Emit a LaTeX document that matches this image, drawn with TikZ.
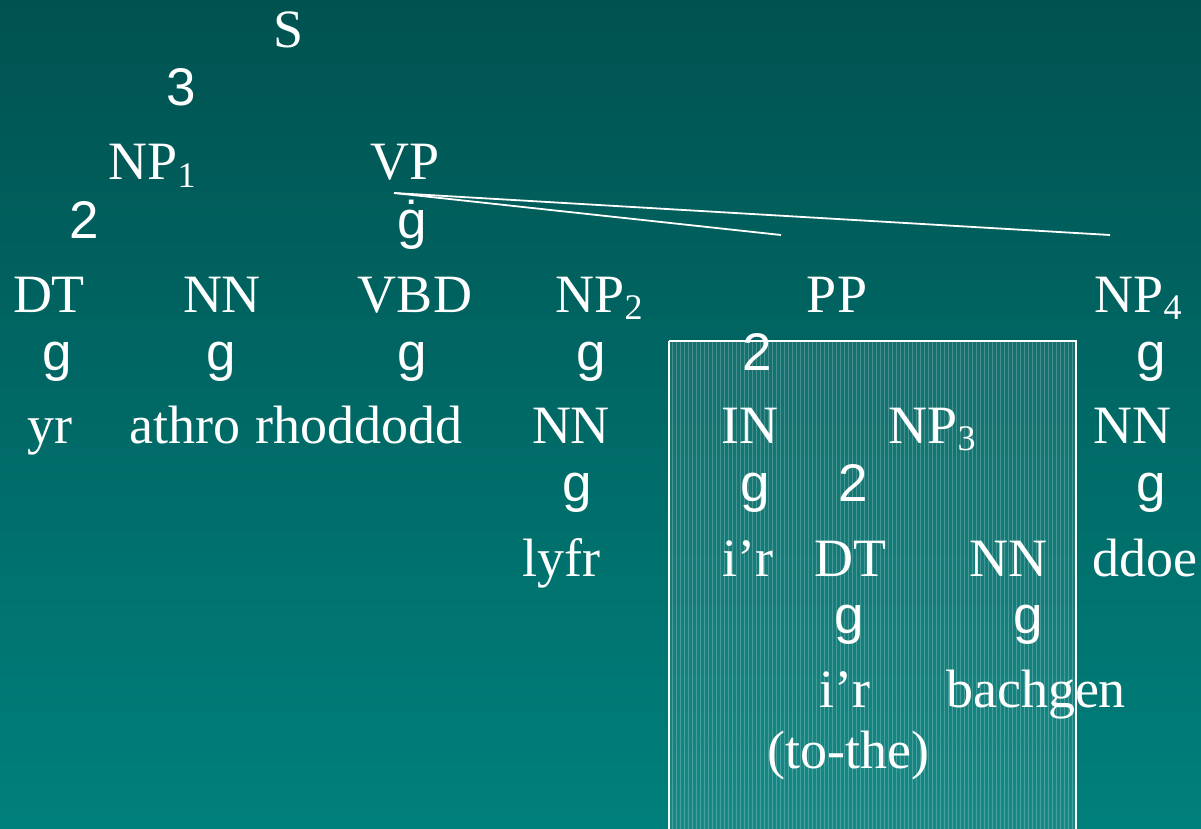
\documentclass[tikz,border=0pt]{standalone}
\usepackage{fontspec}
\setmainfont{Liberation Serif}
\newfontfamily\arialf{Liberation Sans}
\definecolor{bgtop}{RGB}{0,82,80}
\definecolor{bgbot}{RGB}{0,128,124}
\newcommand{\mysub}[1]{\raisebox{-7pt}{\fontsize{36}{40}\selectfont #1}}
\tikzset{
  lbl/.style={text=white, anchor=base, inner sep=0pt, font=\fontsize{54}{60}\selectfont},
  brn/.style={text=white, anchor=base, inner sep=0pt, font=\arialf\fontsize{53}{60}\selectfont},
  branch/.style={draw=white, line width=1.8pt},
  hlbox/.style={draw=white, line width=1.6pt}
}
\begin{document}
\begin{tikzpicture}[x=1pt,y=-1pt]
\useasboundingbox (0,0) rectangle (1201,829);
\begin{scope}[y=1pt]
\shade[top color=bgtop, bottom color=bgbot] (0,-829) rectangle (1201,0);
\end{scope}
% highlighted box
\fill[white, opacity=0.08] (669,341) rectangle (1076,840);
\begin{scope}
\clip (669,341) rectangle (1076,840);
\draw[white, opacity=0.22, line width=0.8pt, step=4] (668,340) grid (1080,840);
\end{scope}
\draw[hlbox] (669,341) -- (1076,341) -- (1076,840) (669,341) -- (669,840);
% connectors from VP
\coordinate (vpfoot) at (394,193);
\coordinate (ppend) at (781,235);
\coordinate (npend) at (1110,235);
\draw[branch] (vpfoot) -- (ppend);
\draw[branch] (vpfoot) -- (npend);
% top
\node[lbl] (S) at (289,48) {S};
\node[brn] (b3) at (181,106) {3};
\node[lbl] (NP1) at (152,180) {NP\mysub{1}};
\node[lbl] (VP) at (405,180) {VP};
\node[brn] (b2a) at (84,238) {2};
\node[brn] (bvp) at (412,238) {ġ};
% row of categories
\node[lbl] (DT1) at (49,312) {DT};
\node[lbl] (NN1) at (222,312) {NN};
\node[lbl] (VBD) at (415,312) {VBD};
\node[lbl] (NP2) at (599,312) {NP\mysub{2}};
\node[lbl] (PP) at (837,312) {PP};
\node[lbl] (NP4) at (1138,312) {NP\mysub{4}};
% branches
\node[brn] (g1) at (57,370) {g};
\node[brn] (g2) at (221,370) {g};
\node[brn] (g3) at (412,370) {g};
\node[brn] (g4) at (591,370) {g};
\node[brn] (b2pp) at (757,370) {2};
\node[brn] (g5) at (1151,370) {g};
% words row
\node[lbl] (yr) at (50,443) {yr};
\node[lbl] (athro) at (185,443) {athro};
\node[lbl] (rhod) at (359,443) {rhoddodd};
\node[lbl] (NN2) at (571,443) {NN};
\node[lbl] (IN) at (750,443) {IN};
\node[lbl] (NP3) at (932,443) {NP\mysub{3}};
\node[lbl] (NN3) at (1132,443) {NN};
% branches
\node[brn] (g6) at (577,501) {g};
\node[brn] (g7) at (755,501) {g};
\node[brn] (b2np) at (853,501) {2};
\node[brn] (g8) at (1151,501) {g};
% next row
\node[lbl] (lyfr) at (561,576) {lyfr};
\node[lbl] (ir1) at (748,576) {i’r};
\node[lbl] (DT2) at (850,576) {DT};
\node[lbl] (NN4) at (1008,576) {NN};
\node[lbl] (ddoe) at (1145,576) {ddoe};
% branches
\node[brn] (g9) at (849,633) {g};
\node[brn] (g10) at (1028,633) {g};
% leaves
\node[lbl] (ir2) at (845,707) {i’r};
\node[lbl] (bach) at (1036,707) {bachgen};
\node[lbl] (tothe) at (848,768) {(to-the)};
\end{tikzpicture}
\end{document}
